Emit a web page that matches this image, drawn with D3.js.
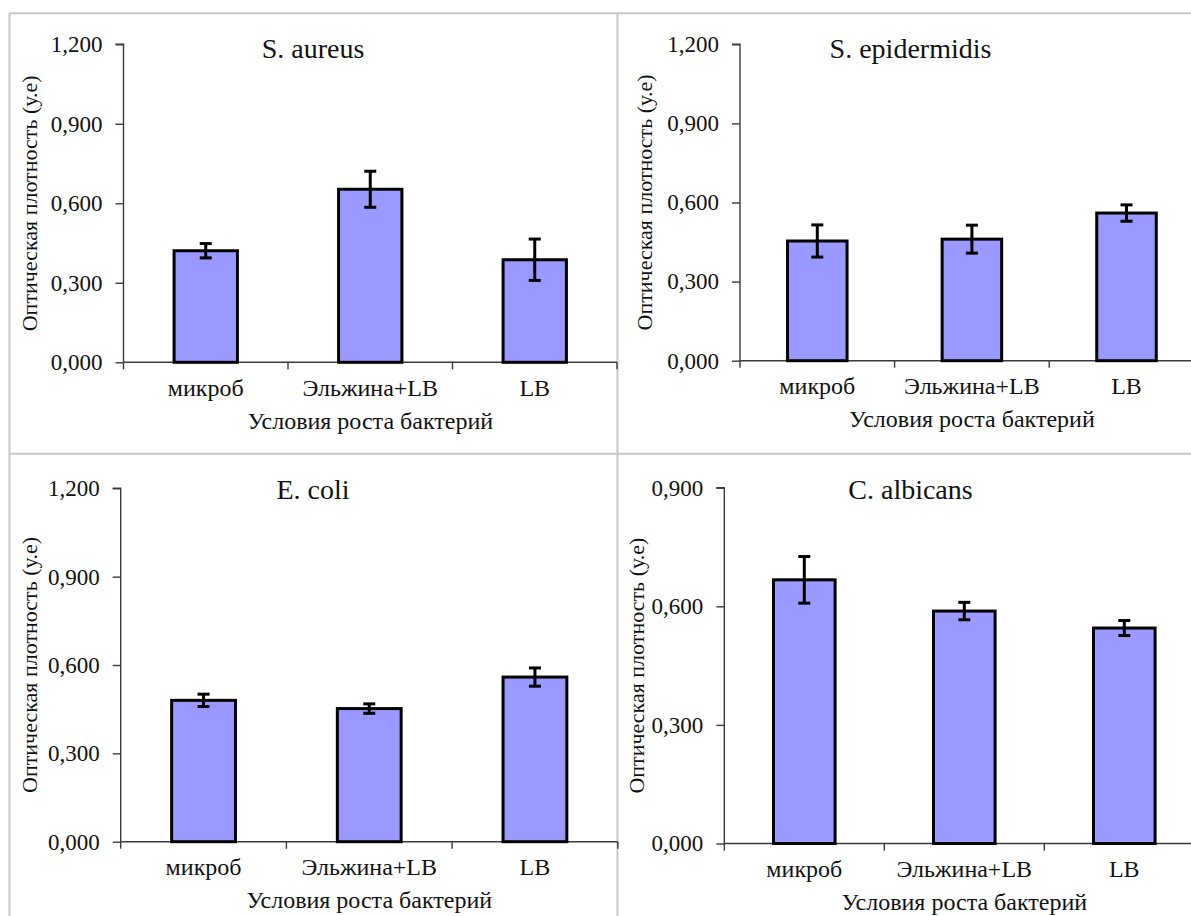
<!DOCTYPE html>
<html>
<head>
<meta charset="utf-8">
<script src="https://cdn.jsdelivr.net/npm/d3@7"></script>
<style>
  html, body { margin: 0; padding: 0; background: #fff; }
  svg { display: block; }
</style>
</head>
<body>
<svg id="chart" width="1191" height="916"></svg>
<script>
// ---------- data ----------
const categories = ["микроб", "Эльжина+LB", "LB"];
const panelTitles = ["S. aureus", "S. epidermidis", "E. coli", "C. albicans"];

const aureusMeans = [0.421, 0.653, 0.387];
const aureusErrors = [0.027, 0.068, 0.078];

const epidermidisMeans = [0.454, 0.461, 0.560];
const epidermidisErrors = [0.061, 0.053, 0.031];

const coliMeans = [0.480, 0.452, 0.559];
const coliErrors = [0.021, 0.016, 0.031];

const albicansMeans = [0.667, 0.588, 0.545];
const albicansErrors = [0.059, 0.022, 0.019];

const yTicksMain = [0, 0.3, 0.6, 0.9, 1.2];
const yTicksAlbicans = [0, 0.3, 0.6, 0.9];

const yAxisTitle = "Оптическая плотность (у.е)";
const xAxisTitle = "Условия роста бактерий";

// ---------- layout (positions only) ----------
const panels = [
  { title: panelTitles[0], means: aureusMeans, errors: aureusErrors, ticks: yTicksMain,
    x0: 123.5, band: 164.5, yBottom: 362.3, yTop: 44.3, titleX: 313, titleY: 57.5, yLabX: 37 },
  { title: panelTitles[1], means: epidermidisMeans, errors: epidermidisErrors, ticks: yTicksMain,
    x0: 740, band: 154.6, yBottom: 360.7, yTop: 44.3, titleX: 910.5, titleY: 57.5, yLabX: 651.5 },
  { title: panelTitles[2], means: coliMeans, errors: coliErrors, ticks: yTicksMain,
    x0: 120.7, band: 165.7, yBottom: 841.7, yTop: 488.3, titleX: 313, titleY: 499, yLabX: 37 },
  { title: panelTitles[3], means: albicansMeans, errors: albicansErrors, ticks: yTicksAlbicans,
    x0: 724.3, band: 160, yBottom: 843.5, yTop: 487.7, titleX: 910.5, titleY: 498.5, yLabX: 644 }
];

const FONT = '"Liberation Serif"';
const TEXT_COLOR = "#111";
const svg = d3.select("#chart");
const fmt = v => d3.format(".3f")(v).replace(".", ",");

// ---------- frame lines ----------
const frameColor = "#c8c8c8";
const frame = svg.append("g").attr("stroke", frameColor).attr("stroke-width", 2);
frame.append("line").attr("x1", 9).attr("x2", 1191).attr("y1", 13.3).attr("y2", 13.3);
frame.append("line").attr("x1", 9.5).attr("x2", 9.5).attr("y1", 13).attr("y2", 916);
frame.append("line").attr("x1", 617.5).attr("x2", 617.5).attr("y1", 13).attr("y2", 916);
frame.append("line").attr("x1", 9).attr("x2", 1191).attr("y1", 453.8).attr("y2", 453.8);

const axisColor = "#3a3a3a";

panels.forEach(p => {
  const g = svg.append("g");
  const x = d3.scaleBand().domain(categories).range([p.x0, p.x0 + 3 * p.band]).paddingInner(0).paddingOuter(0);
  const y = d3.scaleLinear().domain([0, d3.max(p.ticks)]).range([p.yBottom, p.yTop]);
  const barW = x.bandwidth() * 0.385;

  // y axis
  const yAxis = d3.axisLeft(y).tickValues(p.ticks).tickSize(8).tickPadding(13).tickFormat(fmt);
  const ya = g.append("g").attr("transform", `translate(${p.x0},0)`).call(yAxis);
  ya.select(".domain").attr("stroke", axisColor).attr("stroke-width", 1.4).attr("d", `M-8,${y(d3.max(p.ticks))}H0V${p.yBottom}`);
  ya.selectAll(".tick line").attr("stroke", axisColor).attr("stroke-width", 1.4);
  ya.selectAll(".tick text").attr("font-size", 23).style("font-family", FONT).attr("fill", TEXT_COLOR);

  // x axis line with boundary ticks
  const xr = x.range();
  g.append("line").attr("x1", xr[0]).attr("x2", xr[1]).attr("y1", p.yBottom).attr("y2", p.yBottom)
    .attr("stroke", axisColor).attr("stroke-width", 1.4);
  const bounds = d3.range(categories.length + 1).map(i => xr[0] + i * x.step());
  g.selectAll(".xtick").data(bounds).join("line").attr("class", "xtick")
    .attr("x1", d => d).attr("x2", d => d).attr("y1", p.yBottom).attr("y2", p.yBottom + 7)
    .attr("stroke", axisColor).attr("stroke-width", 1.4);

  // bars
  g.selectAll(".bar").data(p.means).join("rect").attr("class", "bar")
    .attr("x", (d, i) => x(categories[i]) + x.bandwidth() / 2 - barW / 2)
    .attr("width", barW)
    .attr("y", d => y(d))
    .attr("height", d => p.yBottom - y(d))
    .attr("fill", "#9999ff").attr("stroke", "#000").attr("stroke-width", 3);

  // error bars
  const capW = 12;
  const cx = i => x(categories[i]) + x.bandwidth() / 2;
  const eb = g.selectAll(".err").data(p.means).join("g").attr("class", "err")
    .attr("stroke", "#000").attr("stroke-width", 3);
  eb.append("line")
    .attr("x1", (d, i) => cx(i)).attr("x2", (d, i) => cx(i))
    .attr("y1", (d, i) => y(d + p.errors[i])).attr("y2", (d, i) => y(d - p.errors[i]));
  eb.append("line")
    .attr("x1", (d, i) => cx(i) - capW / 2).attr("x2", (d, i) => cx(i) + capW / 2)
    .attr("y1", (d, i) => y(d + p.errors[i])).attr("y2", (d, i) => y(d + p.errors[i]));
  eb.append("line")
    .attr("x1", (d, i) => cx(i) - capW / 2).attr("x2", (d, i) => cx(i) + capW / 2)
    .attr("y1", (d, i) => y(d - p.errors[i])).attr("y2", (d, i) => y(d - p.errors[i]));

  // category labels
  g.selectAll(".cat").data(categories).join("text").attr("class", "cat")
    .attr("x", d => x(d) + x.bandwidth() / 2)
    .attr("y", p.yBottom + 33.4)
    .attr("text-anchor", "middle").attr("font-size", 24)
    .style("font-family", FONT).attr("fill", TEXT_COLOR)
    .text(d => d);

  // x axis title
  g.append("text").attr("x", (xr[0] + xr[1]) / 2).attr("y", p.yBottom + 66.3)
    .attr("text-anchor", "middle").attr("font-size", 24)
    .style("font-family", FONT).attr("fill", TEXT_COLOR).text(xAxisTitle);

  // y axis title
  g.append("text")
    .attr("transform", `translate(${p.yLabX},${(p.yTop + p.yBottom) / 2}) rotate(-90)`)
    .attr("text-anchor", "middle").attr("font-size", 22)
    .style("font-family", FONT).attr("fill", TEXT_COLOR).text(yAxisTitle);

  // panel title
  g.append("text").attr("x", p.titleX).attr("y", p.titleY)
    .attr("text-anchor", "middle").attr("font-size", 28)
    .style("font-family", FONT).attr("fill", TEXT_COLOR).text(p.title);
});
</script>
</body>
</html>
